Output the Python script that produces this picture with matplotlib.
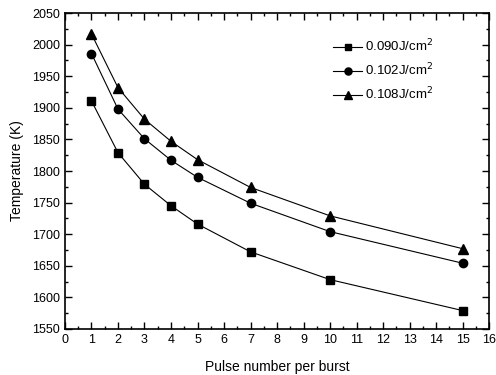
import matplotlib
matplotlib.use("Agg")
import matplotlib.pyplot as plt
from matplotlib.ticker import MultipleLocator

plt.rcParams['font.family'] = ['Liberation Sans', 'DejaVu Sans']

pulses = [1, 2, 3, 4, 5, 7, 10, 15]
t_090 = [1911, 1829, 1779, 1745, 1716, 1672, 1628, 1579]
t_102 = [1986, 1898, 1851, 1817, 1790, 1749, 1704, 1654]
t_108 = [2017, 1932, 1882, 1847, 1818, 1774, 1729, 1677]
labels = ['0.090J/cm$^2$', '0.102J/cm$^2$', '0.108J/cm$^2$']

fig = plt.figure(figsize=(4.96, 3.75), dpi=100)
ax = fig.add_axes([0.131, 0.123, 0.855, 0.842])

ax.plot(pulses, t_090, '-s', color='k', lw=0.8, ms=5.5, label=labels[0])
ax.plot(pulses, t_102, '-o', color='k', lw=0.8, ms=6, label=labels[1])
ax.plot(pulses, t_108, '-^', color='k', lw=0.8, ms=6.5, label=labels[2])

ax.set_xlim(0, 16)
ax.set_ylim(1550, 2050)
ax.xaxis.set_major_locator(MultipleLocator(1))
ax.xaxis.set_minor_locator(MultipleLocator(0.5))
ax.yaxis.set_major_locator(MultipleLocator(50))
ax.yaxis.set_minor_locator(MultipleLocator(25))
ax.tick_params(which='both', direction='in', top=True, right=True, labelsize=9, width=1)
ax.tick_params(which='major', length=5)
ax.tick_params(which='minor', length=2.5)
for s in ax.spines.values():
    s.set_linewidth(1.2)

ax.set_xlabel('Pulse number per burst', fontsize=10, labelpad=10)
ax.set_ylabel('Temperature (K)', fontsize=10, labelpad=6)

ax.legend(loc='upper right', bbox_to_anchor=(0.89, 0.95), frameon=False, fontsize=9.5,
          handlelength=2.2, handletextpad=0.2, labelspacing=0.55, borderpad=0.2,
          markerscale=0.85)

fig.savefig('out.png', dpi=100)
